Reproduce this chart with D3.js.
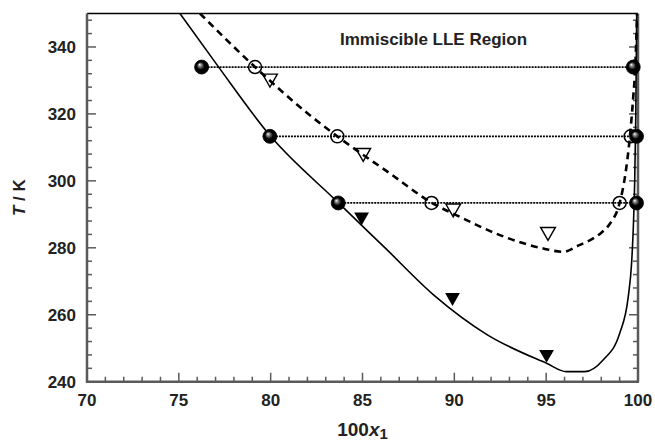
<!DOCTYPE html>
<html><head><meta charset="utf-8">
<script src="https://cdn.jsdelivr.net/npm/d3@7"></script>
<style>body{margin:0;background:#fff}svg{display:block;font-family:"Liberation Sans",Arial,sans-serif}</style>
</head><body><svg id="c" width="655" height="442"></svg>
<script>
// Calculated (model) curves: [100x1, T/K]
const solidX = [75.06,77.06,80.0,83.68,86.3,88.9,91.8,95.02,96.1,97.1,98.1,99.0,99.47,99.65,99.74,99.82,99.88,99.93];
const solidT = [350,334.8,313.3,293.5,279.6,265.8,254.0,245.5,243.0,243.0,246.5,254.4,265.4,275.3,285.3,300,320,350];
const dashX = [76.15,79.15,82.05,83.63,86.5,88.76,90.3,92.48,94.84,95.93,96.8,97.56,98.02,98.47,99.0,99.29,99.56,99.74,99.85,99.95];
const dashT = [350,334,320.0,313.3,302.2,293.5,289.25,283.8,279.8,278.8,280.8,282.8,284.6,287.2,293.4,301.2,313.3,325,334,350];
// Tie lines (filled spheres at both ends)
const tieT = [334.0,313.3,293.4];
const tieLeftX = [76.24,79.96,83.68];
const tieRightX = [99.74,99.92,99.92];
// Open circles
const openCircX = [79.15,83.63,88.76,99.0,99.6,99.8];
const openCircT = [334.0,313.3,293.4,293.4,313.3,334.0];
// Open down triangles
const openTriX = [79.96,85.04,89.94,95.1];
const openTriT = [330.6,308.4,291.8,284.8];
// Filled down triangles
const fillTriX = [84.95,89.9,95.02];
const fillTriT = [289.25,265.2,248.2];
const xTicks = [70,75,80,85,90,95,100];
const yTicks = [240,260,280,300,320,340];

const svg = d3.select("#c");
const L=87, R=638, T=13.5, B=381.7;
const x = d3.scaleLinear().domain([70,100]).range([L,R]);
const y = d3.scaleLinear().domain([240,350]).range([B,T]);

const defs = svg.append("defs");
defs.append("clipPath").attr("id","clip").append("rect").attr("x",L).attr("y",T).attr("width",R-L).attr("height",B-T);
const g1 = defs.append("radialGradient").attr("id","ball").attr("cx","50%").attr("cy","50%").attr("r","50%").attr("fx","35%").attr("fy","32%");
g1.append("stop").attr("offset","0%").attr("stop-color","#fff");
g1.append("stop").attr("offset","18%").attr("stop-color","#999");
g1.append("stop").attr("offset","55%").attr("stop-color","#000");
g1.append("stop").attr("offset","100%").attr("stop-color","#000");

// Axes ticks
const axisCol = "#5a5a5a";
const minorX = d3.range(70,100.01,1), minorY = d3.range(240,350.01,4);
const tk = svg.append("g").attr("stroke",axisCol).attr("stroke-width",1.5);
minorX.forEach(v=>{const len = v%5===0?9:5;
  tk.append("line").attr("x1",x(v)).attr("x2",x(v)).attr("y1",B).attr("y2",B-len);});
minorY.forEach(v=>{const len = v%20===0?9:5;
  tk.append("line").attr("x1",L).attr("x2",L+len).attr("y1",y(v)).attr("y2",y(v));
  tk.append("line").attr("x1",R).attr("x2",R-len).attr("y1",y(v)).attr("y2",y(v));});
svg.append("line").attr("x1",L).attr("x2",R).attr("y1",T).attr("y2",T).attr("stroke","#000").attr("stroke-width",1.5);
svg.append("line").attr("x1",L).attr("x2",L).attr("y1",T).attr("y2",B+1).attr("stroke",axisCol).attr("stroke-width",2.5);
svg.append("line").attr("x1",L-1).attr("x2",R+1).attr("y1",B).attr("y2",B).attr("stroke",axisCol).attr("stroke-width",2.5);
svg.append("line").attr("x1",R).attr("x2",R).attr("y1",T).attr("y2",B).attr("stroke",axisCol).attr("stroke-width",2.5);

// Tick labels
svg.append("g").selectAll("text").data(xTicks).join("text")
  .attr("x",d=>x(d)).attr("y",406).attr("text-anchor","middle")
  .attr("font-size",17).attr("font-weight","bold").attr("fill","#222").text(d=>d);
svg.append("g").selectAll("text").data(yTicks).join("text")
  .attr("x",76).attr("y",d=>y(d)+6).attr("text-anchor","end")
  .attr("font-size",17).attr("font-weight","bold").attr("fill","#222").text(d=>d);

// Axis titles
const xt = svg.append("text").attr("x",(L+R)/2).attr("y",436).attr("text-anchor","middle")
  .attr("font-size",19).attr("font-weight","bold").attr("fill","#222");
xt.append("tspan").text("100");
xt.append("tspan").attr("font-style","italic").text("x");
xt.append("tspan").attr("font-size",15).attr("dy",3).text("1");
const yt = svg.append("text").attr("transform",`translate(25,${(T+B)/2}) rotate(-90)`).attr("text-anchor","middle")
  .attr("font-size",17).attr("font-weight","bold").attr("fill","#222");
yt.append("tspan").attr("font-style","italic").text("T");
yt.append("tspan").text(" / K");

svg.append("text").attr("x",340).attr("y",45).attr("font-size",17).attr("font-weight","bold").attr("fill","#222").text("Immiscible LLE Region");

const plot = svg.append("g").attr("clip-path","url(#clip)");
const line = d3.line().x(d=>x(d[0])).y(d=>y(d[1])).curve(d3.curveMonotoneX);
plot.append("path").datum(solidX.map((v,i)=>[v,solidT[i]])).attr("d",line)
  .attr("fill","none").attr("stroke","#000").attr("stroke-width",1.6);
plot.append("path").datum(dashX.map((v,i)=>[v,dashT[i]])).attr("d",line)
  .attr("fill","none").attr("stroke","#000").attr("stroke-width",2.6).attr("stroke-dasharray","7,5");

// tie lines
plot.append("g").selectAll("line").data(tieT).join("line")
  .attr("x1",(d,i)=>x(tieLeftX[i])).attr("x2",(d,i)=>x(tieRightX[i]))
  .attr("y1",d=>y(d)).attr("y2",d=>y(d))
  .attr("stroke","#000").attr("stroke-width",1.8).attr("stroke-dasharray","2,1");

// open circles
plot.append("g").selectAll("circle").data(openCircX).join("circle")
  .attr("cx",d=>x(d)).attr("cy",(d,i)=>y(openCircT[i])).attr("r",6.5)
  .attr("fill","none").attr("stroke","#000").attr("stroke-width",1.5);

const tri = d3.symbol().type(d3.symbolTriangle).size(95);
plot.append("g").selectAll("path").data(openTriX).join("path")
  .attr("d",tri).attr("transform",(d,i)=>`translate(${x(d)},${y(openTriT[i])}) rotate(180)`)
  .attr("fill","none").attr("stroke","#000").attr("stroke-width",1.4);
plot.append("g").selectAll("path").data(fillTriX).join("path")
  .attr("d",tri).attr("transform",(d,i)=>`translate(${x(d)},${y(fillTriT[i])}) rotate(180)`)
  .attr("fill","#000");

// spheres
const balls = tieT.flatMap((t,i)=>[[tieLeftX[i],t],[tieRightX[i],t]]);
svg.append("g").selectAll("circle").data(balls).join("circle")
  .attr("cx",d=>x(d[0])).attr("cy",d=>y(d[1])).attr("r",7)
  .attr("fill","url(#ball)").attr("stroke","#000").attr("stroke-width",0.8);
</script></body></html>
